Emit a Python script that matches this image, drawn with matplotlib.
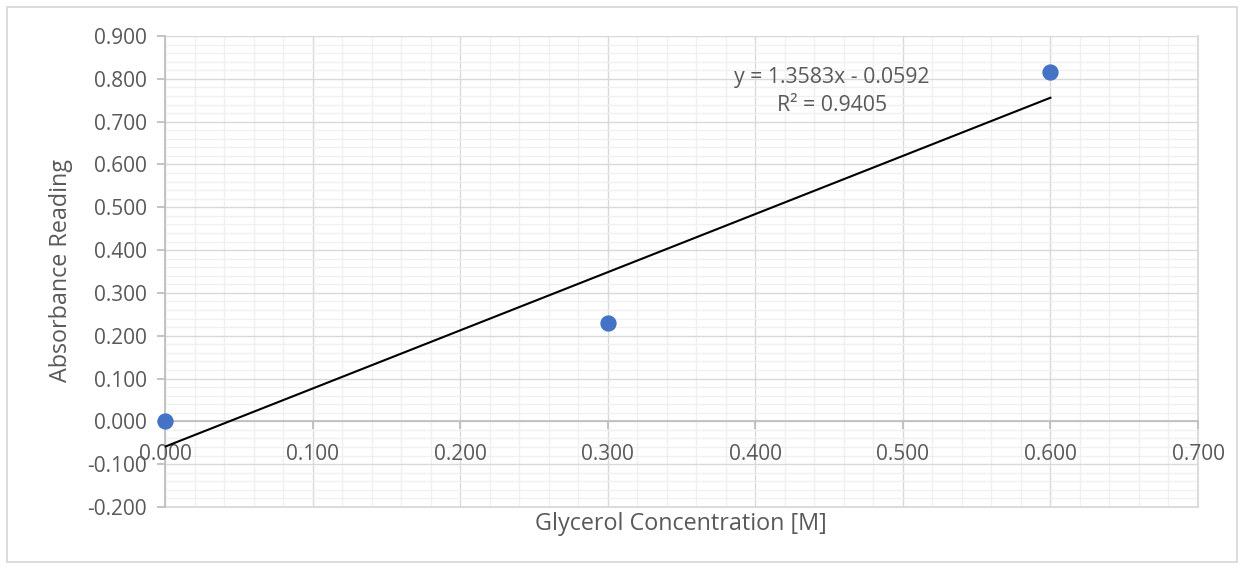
import numpy as np
import matplotlib
matplotlib.use("Agg")
import matplotlib.pyplot as plt
from matplotlib.ticker import MultipleLocator, FormatStrFormatter

# datos
concentracion = [0.000, 0.300, 0.600]
absorbancia = [0.000, 0.230, 0.815]

plt.rcParams["font.family"] = ["Open Sans", "DejaVu Sans"]

texto = "#595959"
grid_mayor = "#d9d9d9"
grid_menor = "#f0f0f0"
eje = "#bfbfbf"

fig = plt.figure(figsize=(12.44, 5.69), dpi=100)
pos = [165 / 1244, 1 - 507 / 569, (1198 - 165) / 1244, (507 - 36) / 569]

# ejes de fondo: solo la cuadricula
ax = fig.add_axes(pos)
# ejes encima: lineas de eje, etiquetas y datos
ax2 = fig.add_axes(pos, sharex=ax, sharey=ax)
ax2.patch.set_visible(False)

ax.set_xlim(0, 0.7)
ax.set_ylim(-0.2, 0.9)
for a in [ax, ax2]:
    a.xaxis.set_major_locator(MultipleLocator(0.1))
    a.yaxis.set_major_locator(MultipleLocator(0.1))
ax.xaxis.set_minor_locator(MultipleLocator(0.02))
ax.yaxis.set_minor_locator(MultipleLocator(0.02))

ax.grid(which="minor", color=grid_menor, lw=1.0)
ax.grid(which="major", color=grid_mayor, lw=1.0)
ax.tick_params(which="both", length=0, labelbottom=False, labelleft=False)
for lado in ax.spines:
    ax.spines[lado].set_visible(False)
ax.axhline(-0.2, color=grid_mayor, lw=1.3, clip_on=False)
ax.axvline(0.7, color=grid_mayor, lw=1.3, clip_on=False)

# recta de ajuste
m, b = np.polyfit(concentracion, absorbancia, 1)
x_fit = np.array([min(concentracion), max(concentracion)])
ax2.plot(x_fit, m * x_fit + b, color="black", lw=1.5, zorder=3)

ax2.scatter(concentracion, absorbancia, s=115, color="#4472C4", zorder=4,
            clip_on=False)

ax2.xaxis.set_major_formatter(FormatStrFormatter("%.3f"))
ax2.yaxis.set_major_formatter(FormatStrFormatter("%.3f"))

for lado in ["top", "right"]:
    ax2.spines[lado].set_visible(False)
ax2.spines["bottom"].set_position(("data", 0))
ax2.spines["bottom"].set_color(eje)
ax2.spines["left"].set_color(eje)
ax2.spines["bottom"].set_linewidth(1.3)
ax2.spines["left"].set_linewidth(1.3)
ax2.spines["bottom"].set_zorder(1)
ax2.spines["left"].set_zorder(1)

ax2.tick_params(which="major", length=6, width=1.3, color=eje, labelcolor=texto,
                labelsize=15)
ax2.tick_params(which="minor", length=0)
ax2.tick_params(axis="x", which="major", direction="out", pad=10)
ax2.tick_params(axis="y", which="major", pad=7)

fig.text(681 / 1244, 1 - 524 / 569, "Glycerol Concentration [M]", color=texto,
         fontsize=16.8, ha="center", va="center")
fig.text(61 / 1244, 1 - 271 / 569, "Absorbance Reading", color=texto,
         fontsize=16.8, ha="center", va="center", rotation=90)

ax2.text(0.452, 0.77, "y = 1.3583x - 0.0592\nR² = 0.9405", color=texto,
         fontsize=15.3, ha="center", va="center", linespacing=1.45)

# marco de la figura
fig.patches.append(plt.Rectangle((7 / 1244, 7 / 569), 1 - 14 / 1244, 1 - 14 / 569,
                                 transform=fig.transFigure, fill=False,
                                 edgecolor="#d9d9d9", lw=1.3))

fig.savefig("out.png", dpi=100)
